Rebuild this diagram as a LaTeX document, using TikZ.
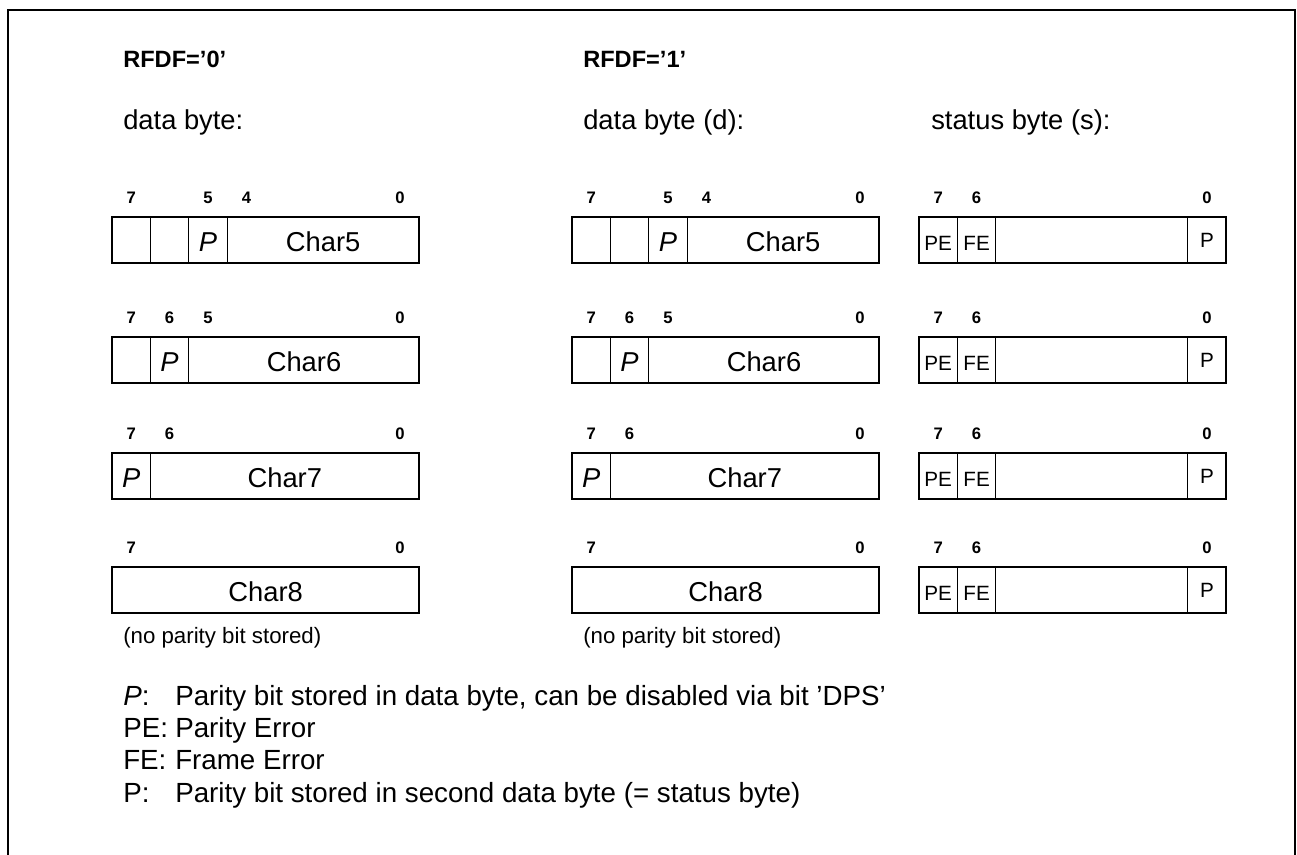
\documentclass[tikz,border=0pt]{standalone}
\usepackage{fontspec}
\setmainfont{Liberation Sans}
\usetikzlibrary{positioning,calc}
\definecolor{RegInk}{HTML}{000000}
\newcommand{\BitW}{38.4}
\newcommand{\LgdTag}[1]{\makebox[39pt][l]{#1}}

\begin{document}
\begin{tikzpicture}[x=0.75pt,y=-0.75pt,
    regbox/.style={draw=RegInk,line width=1.2pt},
    cellsep/.style={draw=RegInk,line width=0.6pt},
    bitno/.style={font=\bfseries\fontsize{12.5}{14}\selectfont,anchor=base,inner sep=0pt},
    headtxt/.style={font=\bfseries\fontsize{17.7}{21}\selectfont,anchor=base west,inner sep=0pt},
    captxt/.style={font=\fontsize{20.5}{24}\selectfont,anchor=base west,inner sep=0pt},
    celltxt/.style={font=\fontsize{20.5}{24}\selectfont,inner sep=0pt},
    partxt/.style={font=\itshape\fontsize{20.5}{24}\selectfont,inner sep=0pt},
    flagtxt/.style={font=\fontsize{15.5}{18}\selectfont,inner sep=0pt},
    notetxt/.style={font=\fontsize{16.7}{20}\selectfont,anchor=base west,inner sep=0pt},
    lgdtxt/.style={font=\fontsize{20.8}{24}\selectfont,anchor=base west,inner sep=0pt}]
    \useasboundingbox (0,0) rectangle (1297,855);
    \draw[line width=2pt,RegInk] (8,860) -- (8,10) -- (1295,10) -- (1295,860);

    % headings
    \node[headtxt] (hdzero) at (123,68) {RFDF=’0’};
    \node[headtxt] (hdone) at (583,68) {RFDF=’1’};
    \node[captxt] (capa) at (123,130) {data byte:};
    \node[captxt] (capb) at (583,130) {data byte (d):};
    \node[captxt] (capc) at (931,130) {status byte (s):};

    % data bytes, both columns
    \foreach \c/\xl in {a/112,b/572}{
      \foreach \r/\yt/\n in {1/217/5,2/337/6,3/453/7,4/567/8}{
        \draw[regbox] (\xl,\yt) rectangle ++(8*\BitW,46);
        \node[celltxt] (char\c\r) at ({\xl+(8-\n/2)*\BitW},\yt+25) {Char\n};
        \node[bitno] (lo\c\r) at ({\xl+7.5*\BitW},\yt-13) {0};
        \node[bitno] (hi\c\r) at ({\xl+0.5*\BitW},\yt-13) {7};
      }
      % row Char5
      \draw[cellsep] (\xl+\BitW,217) -- ++(0,46) (\xl+2*\BitW,217) -- ++(0,46) (\xl+3*\BitW,217) -- ++(0,46);
      \node[partxt] (par\c1) at ({\xl+2.5*\BitW},242) {P};
      \node[bitno] (bfive\c1) at ({\xl+2.5*\BitW},204) {5};
      \node[bitno] (bfour\c1) at ({\xl+3.5*\BitW},204) {4};
      % row Char6
      \draw[cellsep] (\xl+\BitW,337) -- ++(0,46) (\xl+2*\BitW,337) -- ++(0,46);
      \node[partxt] (par\c2) at ({\xl+1.5*\BitW},362) {P};
      \node[bitno] (bsix\c2) at ({\xl+1.5*\BitW},324) {6};
      \node[bitno] (bfive\c2) at ({\xl+2.5*\BitW},324) {5};
      % row Char7
      \draw[cellsep] (\xl+\BitW,453) -- ++(0,46);
      \node[partxt] (par\c3) at ({\xl+0.5*\BitW},478) {P};
      \node[bitno] (bsix\c3) at ({\xl+1.5*\BitW},440) {6};
      % Char8
      \node[notetxt] (note\c) at (\xl+11,643) {(no parity bit stored)};
    }

    % status bytes
    \foreach \r/\yt in {1/217,2/337,3/453,4/567}{
      \draw[regbox] (919,\yt) rectangle ++(8*\BitW,46);
      \draw[cellsep] (919+\BitW,\yt) -- ++(0,46) (919+2*\BitW,\yt) -- ++(0,46) (919+7*\BitW,\yt) -- ++(0,46);
      \node[flagtxt] (pe\r) at ({919+0.5*\BitW},\yt+26) {PE};
      \node[flagtxt] (fe\r) at ({919+1.5*\BitW},\yt+26) {FE};
      \node[flagtxt] (sp\r) at ({919+7.5*\BitW},\yt+23) {P};
      \node[bitno] (shi\r) at ({919+0.5*\BitW},\yt-13) {7};
      \node[bitno] (ssix\r) at ({919+1.5*\BitW},\yt-13) {6};
      \node[bitno] (slo\r) at ({919+7.5*\BitW},\yt-13) {0};
    }

    % legend
    \node[lgdtxt] (lgdp) at (123,705) {\LgdTag{\textit{P}:}Parity bit stored in data byte, can be disabled via bit ’DPS’};
    \node[lgdtxt] (lgdpe) at (123,737) {\LgdTag{PE:}Parity Error};
    \node[lgdtxt] (lgdfe) at (123,769) {\LgdTag{FE:}Frame Error};
    \node[lgdtxt] (lgds) at (123,802) {\LgdTag{P:}Parity bit stored in second data byte (= status byte)};
\end{tikzpicture}
\end{document}
